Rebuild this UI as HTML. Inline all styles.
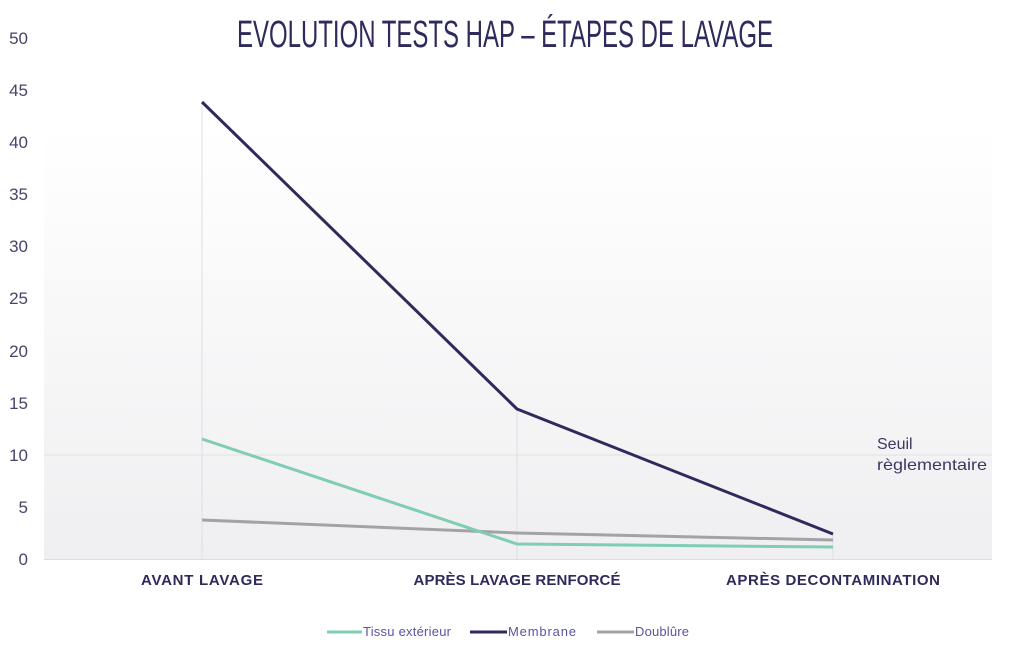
<!DOCTYPE html>
<html><head><meta charset="utf-8"><style>
html,body{margin:0;padding:0;background:#fff;width:1024px;height:656px;overflow:hidden}
svg{display:block}
.t{font-family:"Liberation Sans Narrow","Liberation Sans",sans-serif}
</style></head><body>
<svg width="1024" height="656" viewBox="0 0 1024 656" xmlns="http://www.w3.org/2000/svg">
<defs><linearGradient id="g" x1="0" y1="0" x2="0" y2="1">
<stop offset="0" stop-color="#ffffff"/><stop offset="1" stop-color="#efeff1"/></linearGradient></defs>
<rect x="44" y="128" width="948" height="431" fill="url(#g)"/>
<line x1="44" y1="455" x2="992" y2="455" stroke="#e2e2e6" stroke-width="1"/>
<line x1="44" y1="559.5" x2="992" y2="559.5" stroke="#dcdce2" stroke-width="1"/>
<g stroke="#dedde8" stroke-width="1">
<line x1="202" y1="102" x2="202" y2="559"/><line x1="517" y1="409" x2="517" y2="559"/><line x1="833" y1="534" x2="833" y2="559"/></g>
<text x="505" y="47" text-anchor="middle" class="t" font-size="38" fill="#2e2a5c" textLength="536" lengthAdjust="spacingAndGlyphs">EVOLUTION TESTS HAP – ÉTAPES DE LAVAGE</text>
<g font-family="Liberation Sans,sans-serif" font-size="17" fill="#47446a" text-anchor="end">
<text x="28" y="44">50</text><text x="28" y="96">45</text><text x="28" y="148">40</text><text x="28" y="200">35</text><text x="28" y="252">30</text><text x="28" y="304">25</text><text x="28" y="357">20</text><text x="28" y="409">15</text><text x="28" y="461">10</text><text x="28" y="513">5</text><text x="28" y="565">0</text></g>
<g font-family="Liberation Sans,sans-serif" font-size="15" font-weight="bold" fill="#2e2a5c" text-anchor="middle" lengthAdjust="spacingAndGlyphs">
<text x="202" y="585" textLength="122">AVANT LAVAGE</text><text x="517" y="585" textLength="207">APRÈS LAVAGE RENFORCÉ</text><text x="833" y="585" textLength="214">APRÈS DECONTAMINATION</text></g>
<g font-family="Liberation Sans,sans-serif" font-size="16" fill="#3b3860">
<text x="877" y="449">Seuil</text><text x="877" y="470" textLength="110" lengthAdjust="spacingAndGlyphs">règlementaire</text></g>
<g fill="none" stroke-width="3" stroke-linejoin="round">
<polyline points="202,520 517,533 833,540" stroke="#a3a3a5"/>
<polyline points="202,439 517,544 833,547" stroke="#7fcdb2"/>
<polyline points="202,102 517,409 833,534" stroke="#2e2a5c"/></g>
<g font-family="Liberation Sans,sans-serif" font-size="13" fill="#5a54a0" lengthAdjust="spacingAndGlyphs">
<line x1="327" y1="632" x2="362" y2="632" stroke="#7fcdb2" stroke-width="3"/><text x="363" y="636" textLength="88">Tissu extérieur</text>
<line x1="470" y1="632" x2="507" y2="632" stroke="#2e2a5c" stroke-width="3"/><text x="508" y="636" textLength="68">Membrane</text>
<line x1="597" y1="632" x2="634" y2="632" stroke="#a3a3a5" stroke-width="3"/><text x="635" y="636" textLength="54">Doublûre</text></g>
</svg>
</body></html>
